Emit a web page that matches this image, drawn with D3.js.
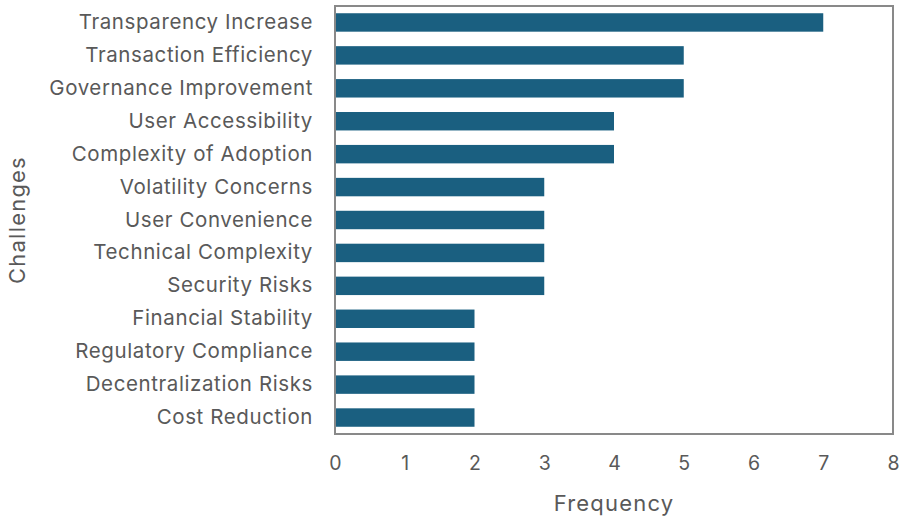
<!DOCTYPE html>
<html><head><meta charset="utf-8">
<script src="https://cdn.jsdelivr.net/npm/d3@7"></script>
<style>body{margin:0;background:#fff}svg{display:block}text{font-family:Inter,sans-serif}</style>
</head><body><svg id="c" width="902" height="522"></svg>
<script>
const categories = ["Transparency Increase","Transaction Efficiency","Governance Improvement","User Accessibility","Complexity of Adoption","Volatility Concerns","User Convenience","Technical Complexity","Security Risks","Financial Stability","Regulatory Compliance","Decentralization Risks","Cost Reduction"];
const values = [7,5,5,4,4,3,3,3,3,2,2,2,2];
const xTicks = [0,1,2,3,4,5,6,7,8];

const svg = d3.select("#c");
const L=335,R=893,T=6,B=434;
const x = d3.scaleLinear().domain([0,8]).range([L,R]);
const y = d3.scaleBand().domain(categories).range([T,B]).paddingInner(0.44).paddingOuter(0.22);

svg.append("g").selectAll("rect").data(categories).join("rect")
  .attr("x",x(0)).attr("y",d=>y(d)).attr("height",y.bandwidth())
  .attr("width",(d,i)=>x(values[i])-x(0)).attr("fill","#1a5f80");

svg.append("rect").attr("x",L).attr("y",T).attr("width",R-L).attr("height",B-T)
  .attr("fill","none").attr("stroke","#898989").attr("stroke-width",2);

const xa = svg.append("g").attr("transform",`translate(0,${B})`)
  .call(d3.axisBottom(x).tickValues(xTicks).tickSize(0).tickPadding(22).tickFormat(d3.format("d")));
xa.select(".domain").remove();
xa.selectAll("text").attr("font-size","19.5px").attr("fill","#595959").style("font-family","Inter,sans-serif");

const ya = svg.append("g").attr("transform",`translate(${L},0)`)
  .call(d3.axisLeft(y).tickSize(0).tickPadding(22));
ya.select(".domain").remove();
ya.selectAll("text").attr("font-size","20.5px").attr("letter-spacing","0.6px").attr("fill","#595959").style("font-family","Inter,sans-serif");

svg.append("text").attr("x",(L+R)/2).attr("y",511).attr("text-anchor","middle")
  .attr("font-size","22px").attr("letter-spacing","1.2px").attr("fill","#595959").text("Frequency");
svg.append("text").attr("transform",`translate(25,${(T+B)/2}) rotate(-90)`).attr("text-anchor","middle")
  .attr("font-size","22px").attr("letter-spacing","1.2px").attr("fill","#595959").text("Challenges");
</script></body></html>
